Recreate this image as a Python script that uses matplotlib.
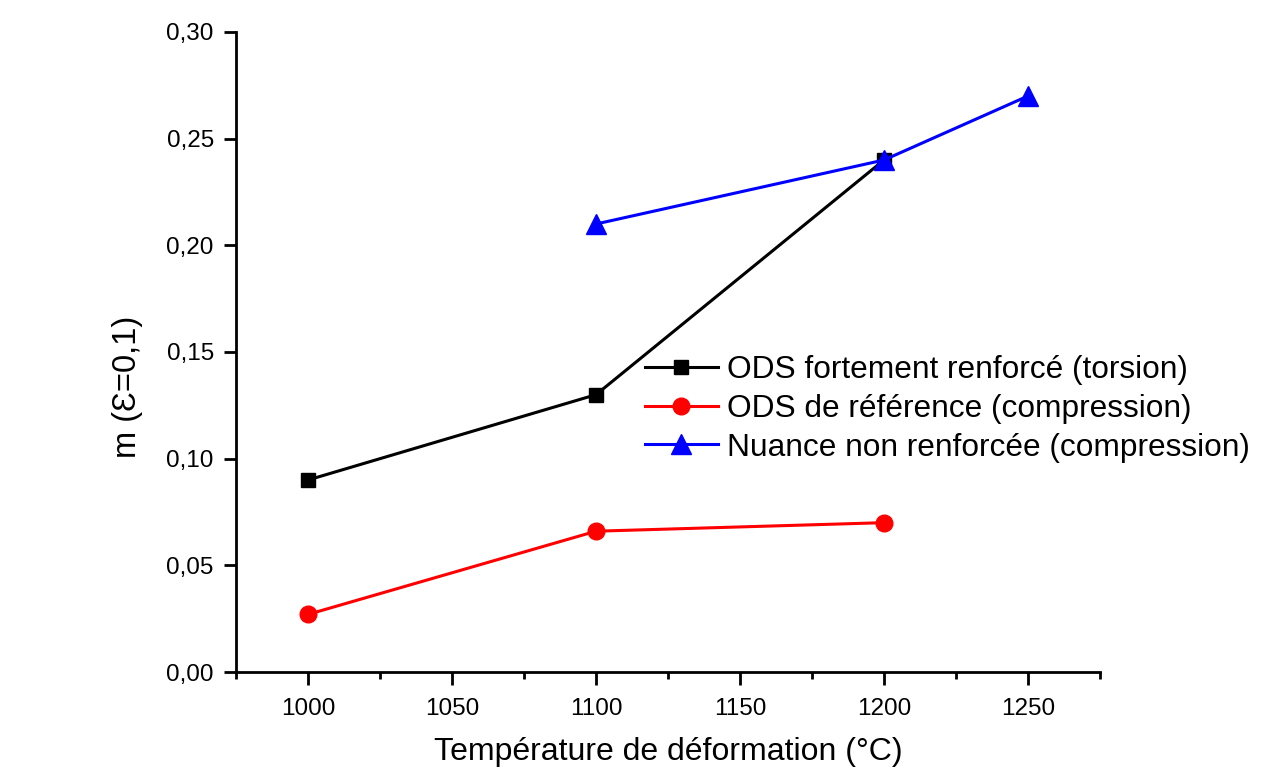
import matplotlib
matplotlib.use("Agg")
import matplotlib.pyplot as plt
from matplotlib.ticker import MultipleLocator, FuncFormatter

plt.rcParams['font.family'] = ['Liberation Sans', 'DejaVu Sans']

temp_black = [1000, 1100, 1200]
m_black = [0.09, 0.13, 0.24]
temp_red = [1000, 1100, 1200]
m_red = [0.027, 0.066, 0.070]
temp_blue = [1100, 1200, 1250]
m_blue = [0.21, 0.24, 0.27]

labels = ["ODS fortement renforcé (torsion)",
          "ODS de référence (compression)",
          "Nuance non renforcée (compression)"]

fig = plt.figure(figsize=(12.71, 7.71), dpi=100)
ax = fig.add_axes([236/1271, 1-672/771, (1100-236)/1271, (672-32)/771])

ax.plot(temp_black, m_black, color='black', lw=2.2, marker='s', ms=10, label=labels[0])
ax.plot(temp_red, m_red, color='#ff0000', lw=2.2, marker='o', ms=12, label=labels[1])
ax.plot(temp_blue, m_blue, color='#0000ff', lw=2.2, marker='^', ms=14, label=labels[2])

ax.set_xlim(975, 1275)
ax.set_ylim(0, 0.30)
ax.xaxis.set_major_locator(MultipleLocator(50))
ax.xaxis.set_minor_locator(MultipleLocator(25))
ax.yaxis.set_major_locator(MultipleLocator(0.05))
ax.yaxis.set_major_formatter(FuncFormatter(lambda v, p: f"{v:.2f}".replace('.', ',')))

for s in ['top', 'right']:
    ax.spines[s].set_visible(False)
for s in ['left', 'bottom']:
    ax.spines[s].set_linewidth(2.0)

ax.tick_params(axis='both', which='major', direction='out', length=9, width=2.0, labelsize=17.5, pad=7)
ax.tick_params(axis='x', which='minor', direction='out', length=5, width=2.0)
ax.tick_params(axis='x', which='major', pad=10)

ax.set_xlabel("Température de déformation (°C)", fontsize=23, labelpad=12)
ax.set_ylabel("m (Ɛ=0,1)", fontsize=23.5)
ax.yaxis.set_label_coords((143-236)/864, (672-387)/640)

ax.legend(loc='center left', bbox_to_anchor=((645-236)/864, (672-409)/640),
          frameon=False, fontsize=22.8, borderaxespad=0, borderpad=0,
          handlelength=2.3, handletextpad=0.28, labelspacing=0.27)

fig.savefig("out.png", dpi=100)
